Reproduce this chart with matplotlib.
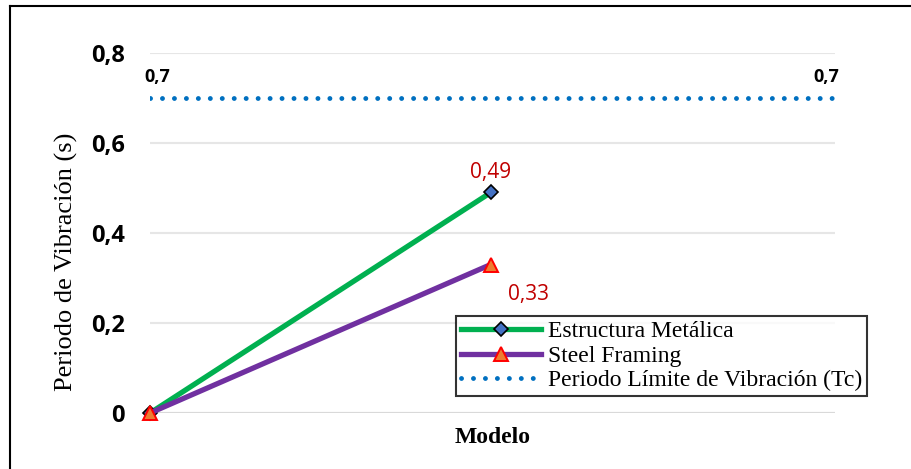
import matplotlib.pyplot as plt
from matplotlib.lines import Line2D

# data
x_pos = [0, 1, 2]
estructura = [0, 0.49]
steel = [0, 0.33]
limite = [0.7, 0.7]
yticks = [0, 0.2, 0.4, 0.6, 0.8]
ytick_labels = ["0", "0,2", "0,4", "0,6", "0,8"]

green = "#00B050"
purple = "#7030A0"
blue = "#0070C0"
red_lbl = "#C00000"

fig = plt.figure(figsize=(9.11, 4.69), dpi=100)
ax = fig.add_axes([150 / 911, 1 - 413 / 469, 685 / 911, 360 / 469])

# series
ax.plot(x_pos[:2], estructura, color=green, lw=3.8, solid_capstyle="butt", zorder=3,
        marker="D", ms=7.5, mfc="#4472C4", mec="black", mew=1.2, clip_on=False)
ax.plot(x_pos[:2], steel, color=purple, lw=3.8, solid_capstyle="butt", zorder=4,
        marker="^", ms=10.5, mfc="#ED7D31", mec="red", mew=1.4, clip_on=False)
ax.plot([x_pos[0], x_pos[2]], limite, color=blue, lw=3.5, ls=(0, (0.01, 2.45)),
        dash_capstyle="round", zorder=2)

# data labels
ax.annotate("0,49", (x_pos[1], estructura[1]), xytext=(0, 7), textcoords="offset points",
            ha="center", va="bottom", color=red_lbl, fontsize=15, family="Open Sans")
ax.annotate("0,33", (x_pos[1], steel[1]), xytext=(27, -14), textcoords="offset points",
            ha="center", va="top", color=red_lbl, fontsize=15, family="Open Sans")
ax.annotate("0,7", (x_pos[0], limite[0]), xytext=(5, 9), textcoords="offset points",
            ha="center", va="bottom", fontsize=13, fontweight="bold", family="Open Sans")
ax.annotate("0,7", (x_pos[2], limite[1]), xytext=(-4, 9), textcoords="offset points",
            ha="center", va="bottom", fontsize=13, fontweight="bold", family="Open Sans")

# axes
ax.set_xlim(0, 2.01)
ax.set_ylim(0, 0.8)
ax.set_yticks(yticks)
ax.set_yticklabels(ytick_labels, fontsize=17, fontweight="bold", family="Open Sans")
ax.set_xticks([])
ax.tick_params(axis="y", length=0, pad=18)
ax.grid(axis="y", color="#E6E6E6", lw=1.5)
ax.set_axisbelow(True)
for s in ax.spines.values():
    s.set_visible(False)
ax.axhline(0, color="#D9D9D9", lw=1.5, zorder=1)

ax.set_ylabel("Periodo de Vibración (s)", fontsize=19, family="Liberation Serif")
ax.yaxis.set_label_coords(-0.105, 0.42)
ax.set_xlabel("Modelo", fontsize=17, fontweight="bold", family="Liberation Serif", labelpad=10)

# legend
handles = [
    Line2D([], [], color=green, lw=3.8, marker="D", ms=7.5, mfc="#4472C4", mec="black", mew=1.2),
    Line2D([], [], color=purple, lw=3.8, marker="^", ms=10.5, mfc="#ED7D31", mec="red", mew=1.4),
    Line2D([], [], color=blue, lw=3.5, ls=(0, (0.01, 2.45)), dash_capstyle="round"),
]
labels = ["Estructura Metálica", "Steel Framing", "Periodo Límite de Vibración (Tc)"]
leg = fig.legend(handles, labels, loc="upper left", bbox_to_anchor=(456 / 911, 1 - 316 / 469),
                 prop={"family": "Liberation Serif", "size": 17}, frameon=True, fancybox=False,
                 edgecolor="black", handlelength=3.4, handletextpad=0.3, labelspacing=0.13,
                 borderpad=0.2, borderaxespad=0)
leg.get_frame().set_linewidth(1.5)

# outer chart border
fig.add_artist(Line2D([10 / 911, 10 / 911], [0, 1 - 6 / 469], color="black", lw=1.5))
fig.add_artist(Line2D([10 / 911, 1], [1 - 6 / 469, 1 - 6 / 469], color="black", lw=1.5))

fig.savefig("out.png", dpi=100)
